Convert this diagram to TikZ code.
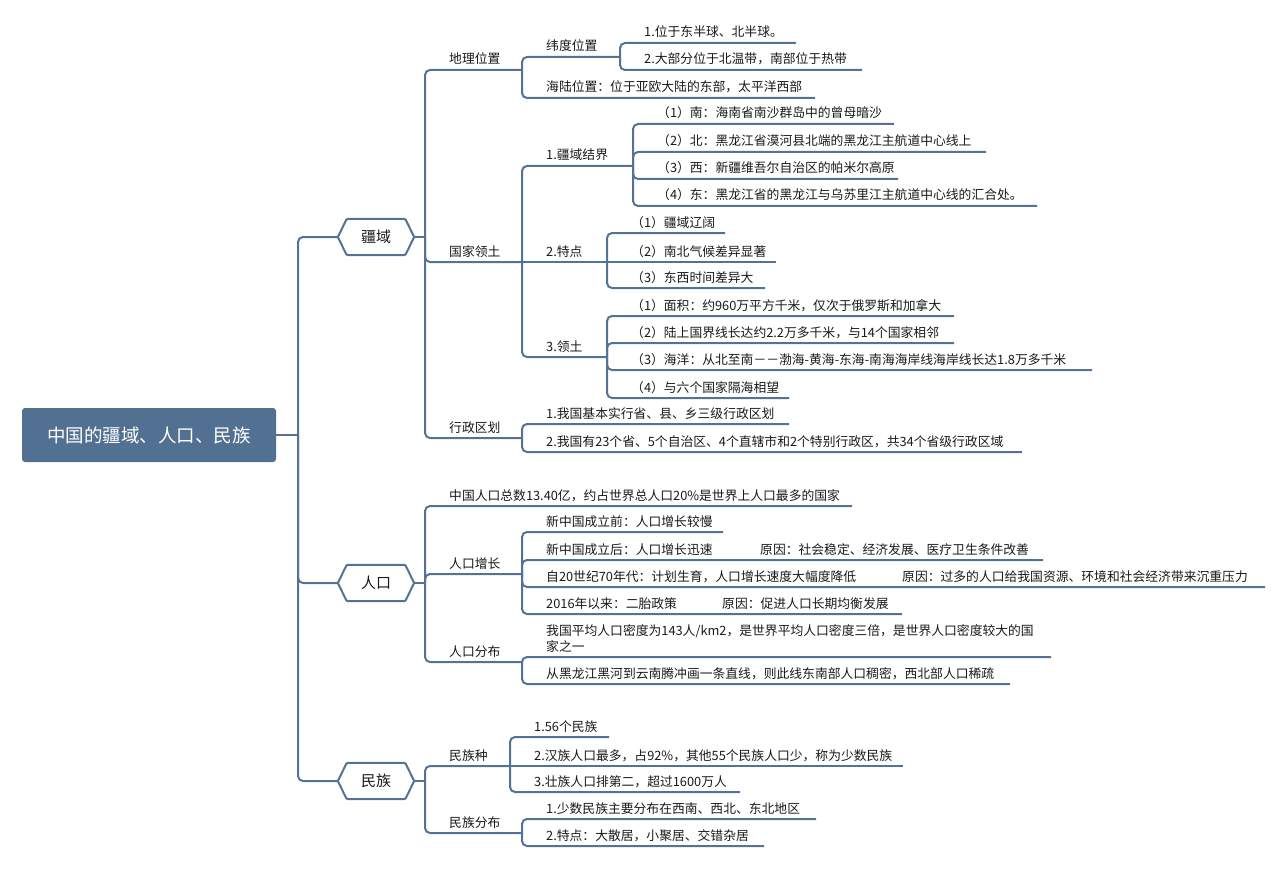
\documentclass[tikz,border=0pt]{standalone}
\usepackage{fontspec}
\setmainfont{Noto Sans CJK SC}
\usetikzlibrary{calc}
\definecolor{lc}{RGB}{84,114,150}
\definecolor{rootc}{RGB}{82,112,146}
\definecolor{tc}{RGB}{25,25,25}
\newcommand{\mmleaf}[6]{%
  \coordinate (#1-e) at (#5,#4);
  \node[mmtxt] (#1) at ({#3+24},{#4-6}) {#6};
  \draw[mmline] (#2) |- (#1-e);}
\newcommand{\mmflat}[6]{%
  \coordinate (#1-e) at (#5,#4);
  \node[mmtxt] (#1) at ({#3+24},{#4-6}) {#6};
  \draw[mmline] (#2) -- (#1-e);}
\newcommand{\mmhexdraw}[1]{%
  \draw[mmline,rounded corners=1pt] (#1.west) -- ($(#1.north west)+(9,0)$) -- ($(#1.north east)+(-9,0)$) -- (#1.east) -- ($(#1.south east)+(-9,0)$) -- ($(#1.south west)+(9,0)$) -- cycle;}
\begin{document}
\begin{tikzpicture}[x=1pt,y=-1pt,
  mmline/.style={draw=lc,line width=2pt,rounded corners=5pt},
  mmtxt/.style={anchor=base west,inner sep=0pt,text=tc,font=\fontsize{12.8}{16}\selectfont},
  mmhex/.style={minimum width=76pt,minimum height=36pt,inner sep=0pt,text=tc,font=\fontsize{15}{18}\selectfont}]
\useasboundingbox (0,0) rectangle (1287,869);

% root
\node[fill=rootc,rounded corners=3pt,minimum width=254pt,minimum height=54pt,inner sep=0pt,text=white,font=\fontsize{18.5}{20}\selectfont] (root) at (149,435) {中国的疆域、人口、民族};
\coordinate (tr) at (298,435);
\draw[mmline] (root.east) -- (tr);

% level 1 hexagons
\node[mmhex] (jy) at (376,237) {疆域};
\node[mmhex] (rk) at (376,583) {人口};
\node[mmhex] (mz) at (376,781) {民族};
\mmhexdraw{jy}
\mmhexdraw{rk}
\mmhexdraw{mz}
\draw[mmline] (tr) |- (jy.west);
\draw[mmline] (tr) |- (rk.west);
\draw[mmline] (tr) |- (mz.west);

% ===== 疆域 =====
\coordinate (jy-j) at (425,237);
\draw[mmline] (jy.east) -- (jy-j);
\mmleaf{dl}{jy-j}{425}{70}{522}{地理位置}
\mmleaf{wd}{dl-e}{522}{57}{620}{纬度位置}
\mmleaf{wd1}{wd-e}{620}{43}{796}{1.位于东半球、北半球。}
\mmleaf{wd2}{wd-e}{620}{70}{862}{2.大部分位于北温带，南部位于热带}
\mmleaf{hl}{dl-e}{522}{98}{815}{海陆位置：位于亚欧大陆的东部，太平洋西部}
\mmleaf{gj}{jy-j}{425}{262}{522}{国家领土}
\mmleaf{jj}{gj-e}{522}{166}{633}{1.疆域结界}
\mmleaf{jj1}{jj-e}{633}{124}{894}{（1）南：海南省南沙群岛中的曾母暗沙}
\mmleaf{jj2}{jj-e}{633}{152}{986}{（2）北：黑龙江省漠河县北端的黑龙江主航道中心线上}
\mmleaf{jj3}{jj-e}{633}{179}{898}{（3）西：新疆维吾尔自治区的帕米尔高原}
\mmleaf{jj4}{jj-e}{633}{206}{1037}{（4）东：黑龙江省的黑龙江与乌苏里江主航道中心线的汇合处。}
\mmflat{td}{gj-e}{522}{262}{607}{2.特点}
\mmleaf{td1}{td-e}{607}{233}{725}{（1）疆域辽阔}
\mmflat{td2}{td-e}{607}{262}{776}{（2）南北气候差异显著}
\mmleaf{td3}{td-e}{607}{288}{765}{（3）东西时间差异大}
\mmleaf{lt}{gj-e}{522}{357}{607}{3.领土}
\mmleaf{lt1}{lt-e}{607}{316}{954}{（1）面积：约960万平方千米，仅次于俄罗斯和加拿大}
\mmleaf{lt2}{lt-e}{607}{343}{954}{（2）陆上国界线长达约2.2万多千米，与14个国家相邻}
\mmleaf{lt3}{lt-e}{607}{370}{1092}{（3）海洋：从北至南－－渤海-黄海-东海-南海海岸线海岸线长达1.8万多千米}
\mmleaf{lt4}{lt-e}{607}{398}{789}{（4）与六个国家隔海相望}
\mmleaf{xz}{jy-j}{425}{438}{522}{行政区划}
\mmleaf{xz1}{xz-e}{522}{424}{789}{1.我国基本实行省、县、乡三级行政区划}
\mmleaf{xz2}{xz-e}{522}{452}{1022}{2.我国有23个省、5个自治区、4个直辖市和2个特别行政区，共34个省级行政区域}

% ===== 人口 =====
\coordinate (rk-j) at (425,583);
\draw[mmline] (rk.east) -- (rk-j);
\mmleaf{rk0}{rk-j}{425}{506}{852}{中国人口总数13.40亿，约占世界总人口20\%是世界上人口最多的国家}
\mmleaf{rz}{rk-j}{425}{574}{522}{人口增长}
\mmleaf{rz1}{rz-e}{522}{532}{723}{新中国成立前：人口增长较慢}
\mmleaf{rz2}{rz-e}{522}{560}{1043}{\makebox[214pt][l]{新中国成立后：人口增长迅速}原因：社会稳定、经济发展、医疗卫生条件改善}
\mmleaf{rz3}{rz-e}{522}{587}{1265}{\makebox[356pt][l]{自20世纪70年代：计划生育，人口增长速度大幅度降低}原因：过多的人口给我国资源、环境和社会经济带来沉重压力}
\mmleaf{rz4}{rz-e}{522}{614}{902}{\makebox[176pt][l]{2016年以来：二胎政策}原因：促进人口长期均衡发展}
\mmleaf{rf}{rk-j}{425}{662}{522}{人口分布}
\coordinate (rf1-e) at (1051,657);
\node[mmtxt,anchor=south west,align=left] (rf1) at (546,652.5) {我国平均人口密度为143人/km2，是世界平均人口密度三倍，是世界人口密度较大的国\\家之一};
\draw[mmline] (rf-e) |- (rf1-e);
\mmleaf{rf2}{rf-e}{522}{684}{1010}{从黑龙江黑河到云南腾冲画一条直线，则此线东南部人口稠密，西北部人口稀疏}

% ===== 民族 =====
\coordinate (mz-j) at (425,781);
\draw[mmline] (mz.east) -- (mz-j);
\mmleaf{mzz}{mz-j}{425}{766}{510}{民族种}
\mmleaf{mz1}{mzz-e}{510}{737}{609}{1.56个民族}
\mmflat{mz2}{mzz-e}{510}{766}{903}{2.汉族人口最多，占92\%，其他55个民族人口少，称为少数民族}
\mmleaf{mz3}{mzz-e}{510}{792}{740}{3.壮族人口排第二，超过1600万人}
\mmleaf{mf}{mz-j}{425}{833}{522}{民族分布}
\mmleaf{mf1}{mf-e}{522}{819}{816}{1.少数民族主要分布在西南、西北、东北地区}
\mmleaf{mf2}{mf-e}{522}{846}{764}{2.特点：大散居，小聚居、交错杂居}
\end{tikzpicture}
\end{document}
